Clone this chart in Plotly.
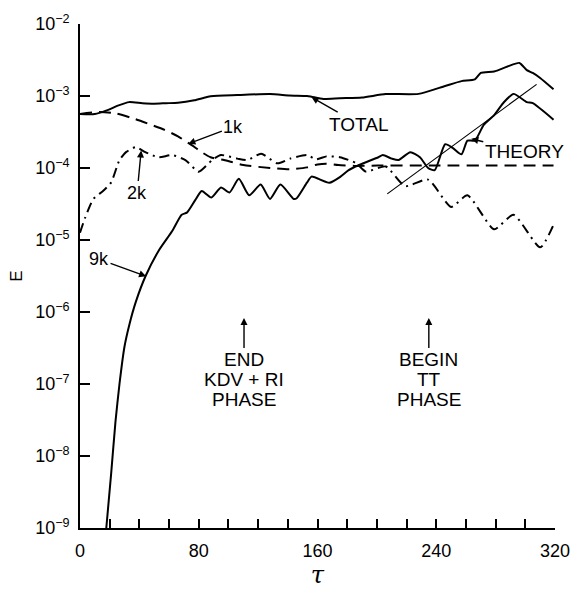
import plotly.graph_objects as go

# ---- data ----
t_total = [0, 10, 18, 26, 33, 42, 50, 58, 66, 77, 88, 106, 128, 141, 153, 156, 164, 175, 190, 206,
           228, 246, 257, 266, 270, 279, 288, 296, 301, 305, 310, 319]
e_total = [5.62e-4, 5.62e-4, 6.31e-4, 7.41e-4, 8.22e-4, 7.94e-4, 7.82e-4, 7.94e-4, 8.05e-4, 8.71e-4,
           9.91e-4, 1.03e-3, 1.064e-3, 1.02e-3, 1.00e-3, 9.77e-4, 9.12e-4, 9.33e-4, 9.55e-4, 1.064e-3,
           1.07e-3, 1.38e-3, 1.61e-3, 1.70e-3, 2.09e-3, 2.19e-3, 2.57e-3, 2.88e-3, 2.29e-3, 2.09e-3,
           1.78e-3, 1.24e-3]

t_1k = [0, 13, 24, 37, 48, 57, 66, 75, 82, 88, 97, 110, 128, 141, 153, 160, 166, 174, 185, 200,
        240, 280, 319]
e_1k = [5.62e-4, 6.0e-4, 5.75e-4, 4.79e-4, 3.98e-4, 3.39e-4, 2.75e-4, 2.09e-4, 1.66e-4, 1.41e-4,
        1.29e-4, 1.10e-4, 1.00e-4, 9.6e-5, 1.02e-4, 1.12e-4, 1.15e-4, 1.10e-4, 1.07e-4, 1.08e-4,
        1.08e-4, 1.08e-4, 1.08e-4]

t_2k = [0, 3.3, 9, 15.5, 21, 26.6, 31, 37.6, 44, 53, 62, 71, 80, 89, 95, 106, 113, 122, 133, 141.6,
        153, 159, 166, 175, 186, 192.6, 206, 219, 234.5, 250, 261, 279, 292, 310, 319]
e_2k = [1.26e-5, 2.0e-5, 3.72e-5, 4.79e-5, 6.31e-5, 1.29e-4, 1.66e-4, 1.95e-4, 1.66e-4, 1.41e-4,
        1.51e-4, 1.29e-4, 8.9e-5, 1.29e-4, 1.51e-4, 1.35e-4, 1.29e-4, 1.58e-4, 1.16e-4, 1.35e-4,
        1.51e-4, 1.32e-4, 1.45e-4, 1.41e-4, 1.17e-4, 8.9e-5, 1.05e-4, 5.6e-5, 6.9e-5, 2.88e-5,
        4.17e-5, 1.41e-5, 2.24e-5, 7.9e-6, 1.62e-5]

t_9k = [17.3, 21, 23.9, 26.6, 29.9, 33.2, 37.6, 44.2, 53, 62, 68.5, 72, 77.5, 82, 88.5, 95, 100.7,
        107, 114, 121.7, 128, 135, 144, 146, 153, 156, 168, 175.5, 181, 188, 201, 204, 210, 214.6,
        222.5, 229, 234.5, 239, 246, 251, 257, 261, 266, 272, 279, 285, 292, 301, 305, 319]
e_9k = [8.0e-10, 5.75e-9, 3.0e-8, 1.0e-7, 3.24e-7, 6.6e-7, 1.38e-6, 3.16e-6, 7.1e-6, 1.32e-5,
        2.24e-5, 2.40e-5, 3.55e-5, 4.79e-5, 3.89e-5, 5.37e-5, 4.57e-5, 7.08e-5, 4.17e-5, 5.89e-5,
        3.72e-5, 5.89e-5, 3.72e-5, 3.80e-5, 6.31e-5, 7.59e-5, 6.24e-5, 7.59e-5, 9.33e-5, 1.10e-4,
        1.41e-4, 1.51e-4, 1.35e-4, 1.29e-4, 1.66e-4, 1.41e-4, 1.00e-4, 9.33e-5, 2.14e-4, 1.91e-4,
        1.55e-4, 2.40e-4, 2.40e-4, 3.98e-4, 5.43e-4, 7.94e-4, 1.07e-3, 8.22e-4, 7.94e-4, 4.68e-4]

t_theory = [207, 307.6]
e_theory = [4.37e-5, 1.45e-3]

x_ticks = [0, 80, 160, 240, 320]
y_ticks = [1e-9, 1e-8, 1e-7, 1e-6, 1e-5, 1e-4, 1e-3, 1e-2]
y_ticktext = ["10<sup>−9</sup>", "10<sup>−8</sup>", "10<sup>−7</sup>", "10<sup>−6</sup>",
              "10<sup>−5</sup>", "10<sup>−4</sup>", "10<sup>−3</sup>", "10<sup>−2</sup>"]

FONT = "Liberation Sans"

fig = go.Figure()
fig.add_trace(go.Scatter(x=t_total, y=e_total, mode="lines", name="TOTAL",
                         line=dict(color="black", width=2, shape="spline", smoothing=0.6)))
fig.add_trace(go.Scatter(x=t_1k, y=e_1k, mode="lines", name="1k",
                         line=dict(color="black", width=2, dash="12px,7px", shape="spline", smoothing=0.6)))
fig.add_trace(go.Scatter(x=t_2k, y=e_2k, mode="lines", name="2k",
                         line=dict(color="black", width=2, dash="10px,5px,2px,5px", shape="spline", smoothing=0.6)))
fig.add_trace(go.Scatter(x=t_9k, y=e_9k, mode="lines", name="9k",
                         line=dict(color="black", width=2, shape="spline", smoothing=0.6)))
fig.add_trace(go.Scatter(x=t_theory, y=e_theory, mode="lines", name="THEORY",
                         line=dict(color="black", width=1.2)))

ann_common = dict(showarrow=True, arrowhead=2, arrowsize=1, arrowwidth=1.4, arrowcolor="black",
                  xref="x", yref="y", standoff=0)
txt = dict(showarrow=False, xref="x", yref="y", xanchor="center", yanchor="middle")


def f(size):
    return dict(size=size, family=FONT, color="black")


annotations = [
    dict(x=156, y=-3.017, text="TOTAL", ax=47, ay=27, font=f(19), **ann_common),
    dict(x=263.6, y=-3.595, text="THEORY", ax=53, ay=13, font=f(19), **ann_common),
    dict(x=73, y=-3.663, text="1k", ax=45, ay=-17, font=f(18), **ann_common),
    dict(x=41.2, y=-3.757, text="2k", ax=-4, ay=42, font=f(18), **ann_common),
    dict(x=44.5, y=-5.504, text="9k", ax=-47, ay=-17, font=f(18), **ann_common),
    # phase markers
    dict(x=110.5, y=-6.082, text="END", ax=0, ay=42, font=f(19), **ann_common),
    dict(x=110.5, y=-6.941, text="KDV + RI", font=f(19), **txt),
    dict(x=110.5, y=-7.210, text="PHASE", font=f(19), **txt),
    dict(x=235, y=-6.082, text="BEGIN", ax=0, ay=42, font=f(19), **ann_common),
    dict(x=235, y=-6.941, text="TT", font=f(19), **txt),
    dict(x=235, y=-7.210, text="PHASE", font=f(19), **txt),
]

fig.update_layout(
    width=582, height=590,
    margin=dict(l=80, r=20, t=19, b=50),
    plot_bgcolor="white", paper_bgcolor="white",
    showlegend=False,
    font=dict(family=FONT, color="black"),
    annotations=annotations,
    xaxis=dict(
        range=[0, 320], tickmode="array", tickvals=x_ticks,
        ticks="inside", ticklen=9, tickwidth=1.5, tickcolor="black",
        showline=True, linecolor="black", linewidth=1.6,
        showgrid=False, zeroline=False,
        tickfont=f(18), ticklabelstandoff=6,
        minor=dict(dtick=20, tick0=0, ticks="inside", ticklen=9, tickwidth=1.5, tickcolor="black", showgrid=False),
        title=dict(text="<i>τ</i>", font=dict(size=24, family="DejaVu Serif", color="black"), standoff=0),
    ),
    yaxis=dict(
        type="log", range=[-9, -2], tickmode="array", tickvals=y_ticks, ticktext=y_ticktext,
        ticks="inside", ticklen=10, tickwidth=1.5, tickcolor="black",
        showline=True, linecolor="black", linewidth=1.6,
        showgrid=False, zeroline=False,
        tickfont=f(18), ticklabelstandoff=5,
        title=dict(text="E", font=f(17), standoff=8),
    ),
)

fig.write_html("out.html")
